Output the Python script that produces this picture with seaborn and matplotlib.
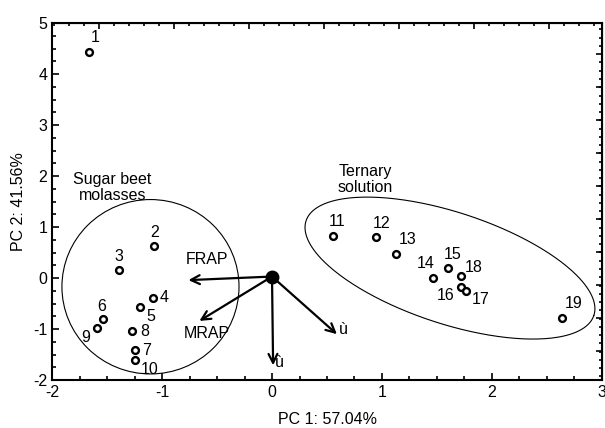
import numpy as np
import pandas as pd
import seaborn as sns
import matplotlib.pyplot as plt
from matplotlib.patches import Ellipse
from matplotlib.ticker import MultipleLocator

# PCA scores
sample = ["1", "2", "3", "4", "5", "6", "7", "8", "9", "10",
          "11", "12", "13", "14", "15", "16", "17", "18", "19"]
pc1 = [-1.66, -1.07, -1.39, -1.08, -1.20, -1.54, -1.25, -1.27, -1.59, -1.25,
       0.55, 0.95, 1.13, 1.46, 1.60, 1.72, 1.76, 1.72, 2.64]
pc2 = [4.44, 0.63, 0.16, -0.39, -0.57, -0.80, -1.42, -1.04, -0.97, -1.60,
       0.83, 0.80, 0.48, 0.01, 0.19, -0.18, -0.25, 0.04, -0.78]

# label offsets in points
label_dx = [4, 0, 0, 8, 8, -1, 9, 9, -8, 11, 3, 4, 8, -5, 3, -11, 11, 9, 8]
label_dy = [10, 10, 10, 0, -7, 9, 0, 0, -7, -7, 10, 10, 10, 10, 10, -6, -6, 6, 10]

# loading vectors
vec_name = ["FRAP", "MRAP", "ù", "ù"]
vec_x = [-0.76, -0.66, 0.01, 0.59]
vec_y = [-0.04, -0.84, -1.71, -1.10]
vec_lab_x = [-0.59, -0.59, 0.07, 0.65]
vec_lab_y = [0.37, -1.08, -1.66, -1.01]
origin = (0.0, 0.03)

df = pd.DataFrame({"pc1": pc1, "pc2": pc2, "sample": sample})

sns.set_style("ticks")
plt.rcParams["font.family"] = ["Liberation Sans", "DejaVu Sans"]
plt.rcParams["font.size"] = 11.5
plt.rcParams["text.color"] = "black"
plt.rcParams["axes.labelcolor"] = "black"
plt.rcParams["xtick.color"] = "black"
plt.rcParams["ytick.color"] = "black"
plt.rcParams["axes.edgecolor"] = "black"
plt.rcParams["axes.unicode_minus"] = False

fig = plt.figure(figsize=(6.05, 4.28), dpi=100)
ax = fig.add_axes([0.086, 0.112, 0.909, 0.834])

sns.scatterplot(data=df, x="pc1", y="pc2", ax=ax, marker="o", s=24,
                facecolor="white", edgecolor="black", linewidth=1.7, zorder=5)

for i, s in enumerate(sample):
    ax.annotate(s, (pc1[i], pc2[i]), xytext=(label_dx[i], label_dy[i]),
                textcoords="offset points", ha="center", va="center")

# group outlines
ax.add_patch(Ellipse((-1.105, -0.17), 1.61, 3.42, fill=False, lw=0.8, color="black"))
t = np.linspace(0, 2 * np.pi, 300)
th = np.deg2rad(18.2)
a_px, b_px = 151.5, 55.7
ex = 1.618 + (a_px * np.cos(t) * np.cos(th) + b_px * np.sin(t) * np.sin(th)) / 110
ey = 0.196 + (-a_px * np.cos(t) * np.sin(th) + b_px * np.sin(t) * np.cos(th)) / 51
ax.plot(ex, ey, color="black", lw=0.8)

ax.text(-1.45, 1.78, "Sugar beet\nmolasses", ha="center", va="center", linespacing=1.05)
ax.text(0.85, 1.93, "Ternary\nsolution", ha="center", va="center", linespacing=1.05)

# biplot vectors
for i in range(len(vec_name)):
    ax.annotate("", xy=(vec_x[i], vec_y[i]), xytext=origin,
                arrowprops=dict(arrowstyle="->", lw=1.6, color="black",
                                mutation_scale=16, shrinkA=0, shrinkB=0))
    ax.text(vec_lab_x[i], vec_lab_y[i], vec_name[i], ha="center", va="center")
ax.plot(*origin, "o", color="black", ms=9, zorder=6)

ax.set_xlim(-2, 3)
ax.set_ylim(-2, 5)
ax.set_xticks([-2, -1, 0, 1, 2, 3])
ax.set_yticks([-2, -1, 0, 1, 2, 3, 4, 5])
ax.xaxis.set_minor_locator(MultipleLocator(0.25))
ax.yaxis.set_minor_locator(MultipleLocator(0.25))
ax.tick_params(which="both", direction="in", width=1.2, labelsize=11.5)
ax.tick_params(which="major", length=5)
ax.tick_params(which="minor", length=3)
ax.set_xlabel("PC 1: 57.04%", labelpad=9)
ax.set_ylabel("PC 2: 41.56%", labelpad=5)
for sp in ax.spines.values():
    sp.set_linewidth(1.5)
    sp.set_visible(True)

# loading scales on top and right
top = ax.secondary_xaxis("top")
top.xaxis.set_major_locator(MultipleLocator(0.682, offset=-1.57 % 0.682))
top.xaxis.set_minor_locator(MultipleLocator(0.1364, offset=-1.57 % 0.1364))
top.tick_params(which="both", direction="in", labeltop=False, width=1.2)
top.tick_params(which="major", length=4)
top.tick_params(which="minor", length=2.5)
right = ax.secondary_yaxis("right")
right.yaxis.set_major_locator(MultipleLocator(0.647, offset=4.39 % 0.647))
right.yaxis.set_minor_locator(MultipleLocator(0.162, offset=4.39 % 0.162))
right.tick_params(which="both", direction="in", labelright=False, width=1.2)
right.tick_params(which="major", length=4)
right.tick_params(which="minor", length=2.5)

fig.savefig("out.png", dpi=100)
